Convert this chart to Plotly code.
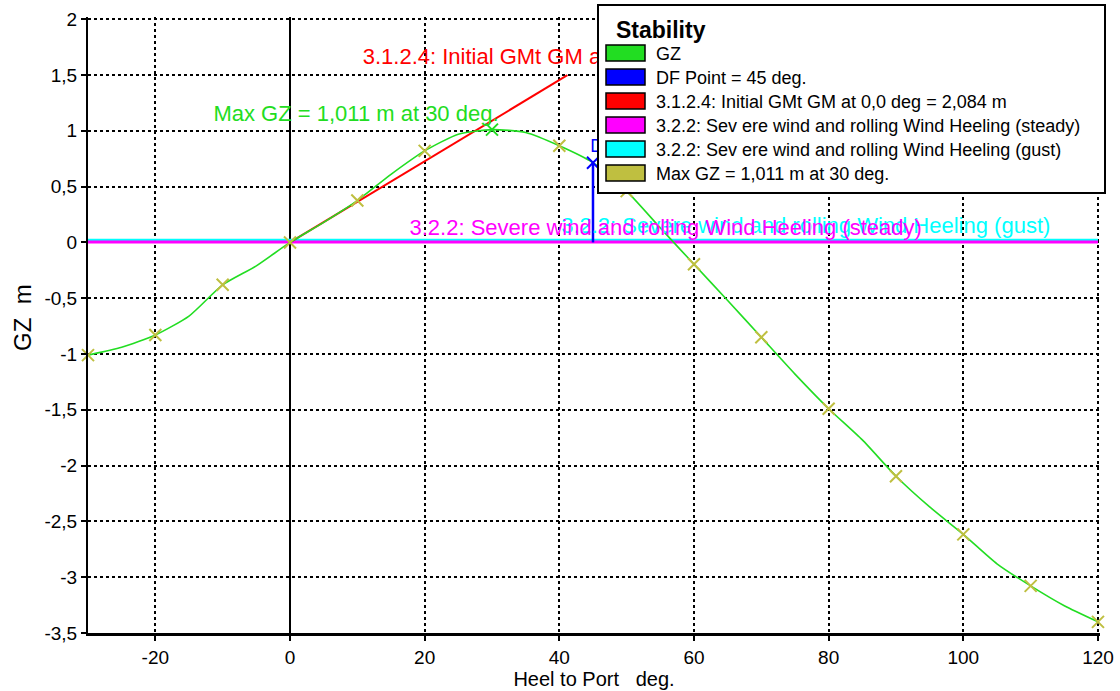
import plotly.graph_objects as go

# ---------------- data ----------------
heel = [-30, -25, -20, -15, -10, -5, 0, 5, 10, 15, 20, 25, 30, 35, 40, 45, 50, 55,
        60, 65, 70, 75, 80, 85, 90, 95, 100, 105, 110, 115, 120]
gz = [-1.01, -0.94, -0.83, -0.66, -0.38, -0.21, 0.0, 0.18, 0.375, 0.61, 0.82, 0.97,
      1.011, 0.985, 0.866, 0.714, 0.46, 0.13, -0.196, -0.52, -0.85, -1.18, -1.49,
      -1.77, -2.095, -2.37, -2.616, -2.88, -3.078, -3.256, -3.40]
marker_heel = [-30, -20, -10, 0, 10, 20, 40, 50, 60, 70, 80, 90, 100, 110, 120]
max_heel, max_gz = 30, 1.011
df_heel, df_gz = 45, 0.714
gm_value = 2.084          # m per rad
gm_line_end_heel = 41.2   # deg
wind_steady = 0.003
wind_gust = 0.02
x_range = [-30, 120]

legend_title = "Stability"
legend_names = ["GZ", "DF Point = 45 deg.", "3.1.2.4: Initial GMt GM at 0,0 deg = 2,084 m",
                "3.2.2: Sev ere wind and rolling Wind Heeling (steady)",
                "3.2.2: Sev ere wind and rolling Wind Heeling (gust)",
                "Max GZ = 1,011 m at 30 deg."]
legend_colors = ["#22DD22", "#0000FF", "#FF0000", "#FF00FF", "#00FFFF", "#BFBF40"]

label_gm = "3.1.2.4: Initial GMt GM at 0,0 deg = 2,084 m"
label_max = "Max GZ = 1,011 m at 30 deg."
label_steady = "3.2.2: Severe wind and rolling Wind Heeling (steady)"
label_gust = "3.2.2: Severe wind and rolling Wind Heeling (gust)"
label_df = "DF Point = 45 deg."
x_title = "Heel to Port\u00a0\u00a0\u00a0deg."
y_title = "GZ\u00a0\u00a0m"

x_tickvals = [-20, 0, 20, 40, 60, 80, 100, 120]
x_ticktext = ["-20", "0", "20", "40", "60", "80", "100", "120"]
y_tickvals = [-3.5, -3, -2.5, -2, -1.5, -1, -0.5, 0, 0.5, 1, 1.5, 2]
y_ticktext = ["-3,5", "-3", "-2,5", "-2", "-1,5", "-1", "-0,5", "0", "0,5", "1", "1,5", "2"]

# ---------------- layout constants ----------------
W_TOT, H_TOT = 1120, 691
L, R, T, B = 88, 20, 17, 58
PW, PH = W_TOT - L - R, H_TOT - T - B
FONT = "Liberation Sans, Arial, sans-serif"

def px_x(p):
    return (p - L) / PW

def px_y(p):
    return (H_TOT - B - p) / PH

GREEN, BLUE, RED, MAG, CYAN, OLIVE = legend_colors

fig = go.Figure()

# wind heeling lines
fig.add_trace(go.Scatter(x=x_range, y=[wind_gust, wind_gust], mode="lines",
                         line=dict(color=CYAN, width=3), showlegend=False, hoverinfo="skip"))
fig.add_trace(go.Scatter(x=x_range, y=[wind_steady, wind_steady], mode="lines",
                         line=dict(color=MAG, width=3), showlegend=False, hoverinfo="skip"))

# GM line
fig.add_trace(go.Scatter(x=[0, gm_line_end_heel],
                         y=[0, gm_value * gm_line_end_heel / 57.2958],
                         mode="lines", line=dict(color=RED, width=2), showlegend=False))

# GZ curve
fig.add_trace(go.Scatter(x=heel, y=gz, mode="lines",
                         line=dict(color=GREEN, width=1.6, shape="spline", smoothing=0.6),
                         showlegend=False))

# markers every 10 deg
mk_y = [gz[heel.index(h)] for h in marker_heel]
fig.add_trace(go.Scatter(x=marker_heel, y=mk_y, mode="markers",
                         marker=dict(symbol="x-thin", size=12, line=dict(color=OLIVE, width=2)),
                         showlegend=False, cliponaxis=False))
fig.add_trace(go.Scatter(x=[max_heel], y=[max_gz], mode="markers",
                         marker=dict(symbol="x-thin", size=12, line=dict(color=GREEN, width=2)),
                         showlegend=False))

# DF point
fig.add_trace(go.Scatter(x=[df_heel, df_heel], y=[0, df_gz], mode="lines",
                         line=dict(color=BLUE, width=2.5), showlegend=False))
fig.add_trace(go.Scatter(x=[df_heel], y=[df_gz], mode="markers",
                         marker=dict(symbol="x-thin", size=12, line=dict(color=BLUE, width=2)),
                         showlegend=False))

# text labels (as traces so the legend box covers them)
def label(x, y, text, color, pos="middle center", size=22):
    fig.add_trace(go.Scatter(x=[x], y=[y], mode="text", text=[text], textposition=pos,
                             textfont=dict(family=FONT, size=size, color=color),
                             showlegend=False, hoverinfo="skip", cliponaxis=False))

label(10.8, 1.652, label_gm, RED, pos="middle right")
label(9.8, 1.134, label_max, GREEN)
label(76.6, 0.134, label_gust, CYAN)
label(55.8, 0.116, label_steady, MAG)
label(44.6, 0.85, label_df, BLUE, pos="middle right", size=18)

# ---------------- custom legend ----------------
shapes = []
annotations = []
shapes.append(dict(type="rect", xref="paper", yref="paper", layer="above",
                   x0=px_x(598), x1=px_x(1105), y0=px_y(193), y1=px_y(5),
                   fillcolor="white", line=dict(color="black", width=2)))
annotations.append(dict(xref="paper", yref="paper", x=px_x(614), y=px_y(30),
                        xanchor="left", yanchor="middle", showarrow=False,
                        text="<b>" + legend_title + "</b>",
                        font=dict(family=FONT, size=23, color="black")))
for i, (name, col) in enumerate(zip(legend_names, legend_colors)):
    cy = 53 + 24 * i
    shapes.append(dict(type="rect", xref="paper", yref="paper", layer="above",
                       x0=px_x(606), x1=px_x(645), y0=px_y(cy + 8), y1=px_y(cy - 8),
                       fillcolor=col, line=dict(color="black", width=1.5)))
    annotations.append(dict(xref="paper", yref="paper", x=px_x(654), y=px_y(cy + 1),
                            xanchor="left", yanchor="middle", showarrow=False,
                            text=name, font=dict(family=FONT, size=18, color="black")))

# y axis title as annotation for exact placement
annotations.append(dict(xref="paper", yref="paper", x=px_x(22), y=px_y(318),
                        xanchor="center", yanchor="middle", showarrow=False, textangle=-90,
                        text=y_title, font=dict(family=FONT, size=24, color="black")))

fig.update_layout(
    width=W_TOT, height=H_TOT,
    margin=dict(l=L, r=R, t=T, b=B),
    paper_bgcolor="white", plot_bgcolor="white",
    showlegend=False,
    shapes=shapes, annotations=annotations,
    font=dict(family=FONT, size=18, color="black"),
    xaxis=dict(range=[x_range[0], x_range[1] + 0.3], tickvals=x_tickvals, ticktext=x_ticktext,
               automargin=False,
               showgrid=True, gridcolor="black", griddash="dot", gridwidth=1.5,
               zeroline=True, zerolinecolor="black", zerolinewidth=2,
               showline=True, linecolor="black", linewidth=2.5,
               ticks="outside", ticklen=5, tickwidth=1.5, tickcolor="black",
               tickfont=dict(family=FONT, size=19),
               title=dict(text=x_title, font=dict(family=FONT, size=20), standoff=6)),
    yaxis=dict(range=[-3.5, 2.02], tickvals=y_tickvals, ticktext=y_ticktext,
               automargin=False,
               showgrid=True, gridcolor="black", griddash="dot", gridwidth=1.5,
               zeroline=False,
               showline=True, linecolor="black", linewidth=2,
               ticks="outside", ticklen=5, tickwidth=1.5, tickcolor="black",
               tickfont=dict(family=FONT, size=19)),
)

fig.write_html("out.html", config={"displayModeBar": False},
               post_script="document.body.style.margin='0';")
